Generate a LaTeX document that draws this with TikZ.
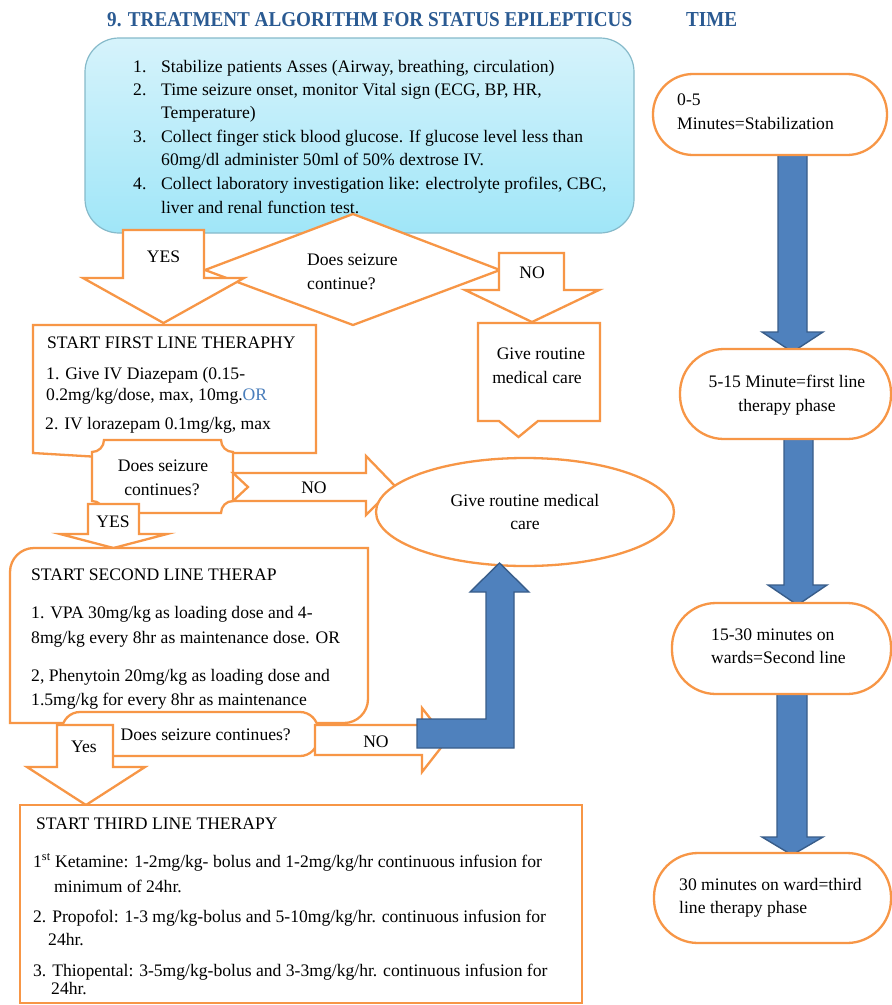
\documentclass[tikz,border=0pt]{standalone}
\usepackage{fontspec}
\setmainfont{Liberation Serif}
\usepackage{graphicx}
\definecolor{orng}{HTML}{F79646}
\definecolor{bfill}{HTML}{4F81BD}
\definecolor{bline}{HTML}{385D8A}
\definecolor{ttl}{HTML}{2A5A92}
\definecolor{ortxt}{HTML}{4A7EBB}
\definecolor{boxtop}{HTML}{D6F3FB}
\definecolor{boxbot}{HTML}{A0E6F8}
\definecolor{boxline}{HTML}{86BACA}
\newcommand\dnarrow[9]{%
  \draw[#1] (#2,#4) -- (#3,#4) -- (#3,#5) -- (#7,#5) -- (#9,#8) -- (#6,#5) -- (#2,#5) -- cycle;}
\tikzset{
  ob/.style={draw=orng, line width=2.3pt, fill=white, line join=miter},
  bb/.style={draw=bline, line width=1.4pt, fill=bfill, line join=miter},
  txt/.style={anchor=base west, inner sep=0pt, font=\fontsize{17.6}{20}\selectfont},
  txtc/.style={anchor=base, inner sep=0pt, font=\fontsize{17.6}{20}\selectfont},
}
\begin{document}
\begin{tikzpicture}[x=1pt,y=-1pt]
\useasboundingbox (0,0) rectangle (892,1005);
\fill[white] (0,0) rectangle (892,1005);

% title
\node[anchor=base west, inner sep=0pt, text=ttl] (title) at (107,26) {\resizebox{525pt}{14pt}{\bfseries 9. TREATMENT ALGORITHM FOR STATUS EPILEPTICUS}};
\node[anchor=base west, inner sep=0pt, text=ttl] (time) at (686,26) {\resizebox{51pt}{14pt}{\bfseries TIME}};

% top box
\draw[draw=boxline, line width=1.2pt, top color=boxtop, bottom color=boxbot, rounded corners=34pt] (85,38) rectangle (634,233);
\node[txt] (n1) at (133,72) {1.};
\node[txt] (l1) at (161,72) {Stabilize patients Asses (Airway, breathing, circulation)};
\node[txt] (n2) at (133,95) {2.};
\node[txt] (l2) at (161,95) {Time seizure onset, monitor Vital sign (ECG, BP, HR,};
\node[txt] (l2b) at (161,118) {Temperature)};
\node[txt] (n3) at (133,142) {3.};
\node[txt] (l3) at (161,142) {Collect finger stick blood glucose. If glucose level less than};
\node[txt] (l3b) at (161,165) {60mg/dl administer 50ml of 50\% dextrose IV.};
\node[txt] (n4) at (133,189) {4.};
\node[txt] (l4) at (161,189) {Collect laboratory investigation like: electrolyte profiles, CBC,};
\node[txt] (l4b) at (161,213) {liver and renal function test.};

% diamond
\draw[ob] (205,270) -- (353,214) -- (500,270) -- (353,325) -- cycle;
\node[txt] (d1) at (307,265) {Does seizure};
\node[txt] (d1b) at (307,289) {continue?};

% YES / NO arrows from diamond
\dnarrow{ob}{123}{204}{230}{278}{83}{244}{323}{163.5}
\node[txtc] (yes1) at (163.5,262) {YES};
\dnarrow{ob}{499}{564}{253}{290}{465}{599}{322}{532}
\node[txtc] (no1) at (532,278) {NO};

% give routine callout
\draw[ob] (478,323) -- (600,323) -- (600,421) -- (538,421) -- (518.5,437) -- (499,421) -- (478,421) -- cycle;
\node[txtc] (gr1) at (541,359) {Give routine};
\node[txtc] (gr1b) at (537,383) {medical care};

% first line box
\draw[ob] (33,325) -- (316,325) -- (316,453) -- (140,453) -- (130,462) -- (120,458.2) -- (33,453) -- cycle;
\node[txt] (f0) at (47,348) {START FIRST LINE THERAPHY};
\node[txt] (f1) at (46,379) {1. Give IV Diazepam (0.15-};
\node[txt] (f1b) at (46,400) {0.2mg/kg/dose, max, 10mg.\textcolor{ortxt}{OR}};
\node[txt] (f2) at (45,429) {2. IV lorazepam 0.1mg/kg, max};

% plaque 1 (concave corners)
\draw[ob] (104,440) -- (221,440) arc[start angle=180, end angle=90, radius=12] -- (233,501)
  arc[start angle=270, end angle=180, radius=12] -- (104,513) arc[start angle=0, end angle=-90, radius=12]
  -- (92,452) arc[start angle=90, end angle=0, radius=12] -- cycle;
\node[txtc] (p1) at (163,471) {Does seizure};
\node[txtc] (p1b) at (162,495) {continues?};

% NO arrow (notched) to ellipse
\draw[ob] (233,473) -- (366,473) -- (366,456) -- (395,486) -- (366,515) -- (366,501) -- (233,501) -- (248,487) -- cycle;
\node[txtc] (no2) at (314,493) {NO};

% ellipse
\draw[ob] (525,512) ellipse[x radius=149, y radius=54];
\node[txtc] (el1) at (525,506) {Give routine medical};
\node[txtc] (el1b) at (525,529) {care};

% YES arrow 2
\dnarrow{ob}{88}{139}{504}{534}{60}{167}{548}{113.5}
\node[txtc] (yes2) at (113,527) {YES};

% second line box
\draw[ob] (10,723) -- (10,572) arc[start angle=180, end angle=270, radius=24] -- (368,548) -- (368,699)
  arc[start angle=0, end angle=90, radius=24] -- cycle;
\node[txt] (s0) at (31,580) {START SECOND LINE THERAP};
\node[txt] (s1) at (31,618) {1. VPA 30mg/kg as loading dose and 4-};
\node[txt] (s1b) at (31,643) {8mg/kg every 8hr as maintenance dose. OR};
\node[txt] (s2) at (31,681) {2, Phenytoin 20mg/kg as loading dose and};
\node[txt] (s2b) at (31,705) {1.5mg/kg for every 8hr as maintenance};

% plaque 2 (rounded)
\draw[ob, rounded corners=18pt] (62,712) rectangle (318,756);
\node[txt] (p2) at (120.5,740) {Does seizure continues?};

% Yes arrow 3
\dnarrow{ob}{57}{113}{725}{767}{27}{145}{805}{86}
\node[txtc] (yes3) at (84,752) {Yes};

% NO arrow 3
\draw[ob] (315,725) -- (422,725) -- (422,708) -- (447,740) -- (422,772) -- (422,755) -- (315,755) -- cycle;
\node[txtc] (no3) at (376,747) {NO};

% blue L arrow
\draw[bb] (417,719) -- (486,719) -- (486,592) -- (470,592) -- (499.5,563) -- (529,592) -- (514,592) -- (514,748) -- (417,748) -- cycle;

% third line box
\draw[ob] (20,805) rectangle (582,1003);
\node[txt] (t0) at (36,829) {START THIRD LINE THERAPY};
\node[txt] (t1) at (33,867) {1\textsuperscript{st} Ketamine: 1-2mg/kg- bolus and 1-2mg/kg/hr continuous infusion for};
\node[txt] (t1b) at (54,892) {minimum of 24hr.};
\node[txt] (t2) at (33,922) {2. Propofol: 1-3 mg/kg-bolus and 5-10mg/kg/hr. continuous infusion for};
\node[txt] (t2b) at (48,945) {24hr.};
\node[txt] (t3) at (33,976) {3. Thiopental: 3-5mg/kg-bolus and 3-3mg/kg/hr. continuous infusion for};
\node[txt] (t3b) at (51,994) {24hr.};

% right column blue arrows
\dnarrow{bb}{778}{807}{155}{332}{762}{823}{352}{792.5}
\dnarrow{bb}{784}{813}{439}{585}{768}{827}{605}{797.5}
\dnarrow{bb}{777}{807}{694}{837}{762}{823}{855}{792}

% time stadiums
\draw[ob, rounded corners=40pt] (653,74) rectangle (887,155);
\node[txt] (r1) at (677,105) {0-5};
\node[txt] (r1b) at (677,129) {Minutes=Stabilization};
\draw[ob, rounded corners=44pt] (680,349) rectangle (891,439);
\node[txtc] (r2) at (787,387) {5-15 Minute=first line};
\node[txtc] (r2b) at (787,411) {therapy phase};
\draw[ob, rounded corners=44pt] (672,603) rectangle (891,694);
\node[txt] (r3) at (711,640) {15-30 minutes on};
\node[txt] (r3b) at (711,663) {wards=Second line};
\draw[ob, rounded corners=44pt] (654,853) rectangle (891,943);
\node[txt] (r4) at (679,890) {30 minutes on ward=third};
\node[txt] (r4b) at (679,913) {line therapy phase};
\end{tikzpicture}
\end{document}
